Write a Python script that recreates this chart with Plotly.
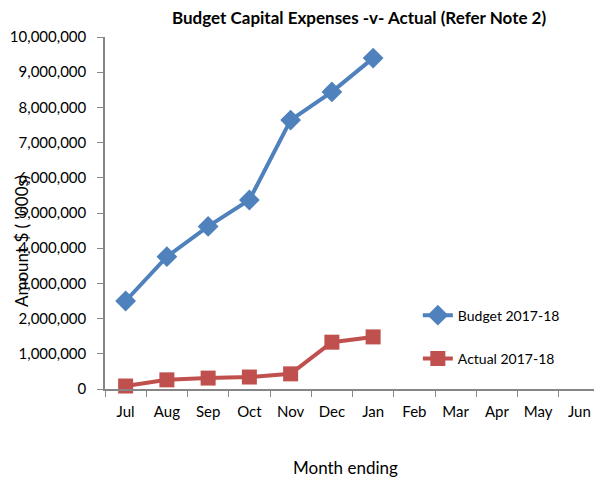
import plotly.graph_objects as go

months = ["Jul", "Aug", "Sep", "Oct", "Nov", "Dec", "Jan", "Feb", "Mar", "Apr", "May", "Jun"]
budget_months = ["Jul", "Aug", "Sep", "Oct", "Nov", "Dec", "Jan"]
budget = [2500000, 3760000, 4620000, 5370000, 7640000, 8440000, 9400000]
actual = [85000, 260000, 310000, 340000, 430000, 1330000, 1480000]

BLUE = "#4F81BD"
RED = "#C0504D"
FONT = "Lato, Open Sans, sans-serif"

fig = go.Figure()

fig.add_trace(go.Scatter(
    x=budget_months, y=budget, name="Budget 2017-18", mode="lines+markers",
    line=dict(color=BLUE, width=4),
    marker=dict(symbol="diamond", size=16, color=BLUE),
    legendgroup="b", cliponaxis=False,
))
fig.add_trace(go.Scatter(
    x=budget_months, y=actual, name="Actual 2017-18", mode="lines+markers",
    line=dict(color=RED, width=4),
    marker=dict(symbol="square", size=15, color=RED),
    legendgroup="a", cliponaxis=False,
))

# page body has an 8px margin, so the figure is a bit smaller and shifted
fig.update_layout(
    width=594, height=477,
    margin=dict(l=97, r=2, t=29, b=96),
    paper_bgcolor="white", plot_bgcolor="white",
    font=dict(family=FONT, size=15, color="black"),
    title=dict(text="<b>Budget Capital Expenses -v- Actual (Refer Note 2)</b>",
               x=0.591, xanchor="center", y=0.978, yanchor="middle",
               font=dict(size=17)),
    showlegend=True,
    legend=dict(x=0.632, y=0.254, xanchor="left", yanchor="top",
                bgcolor="rgba(0,0,0,0)", tracegroupgap=22,
                traceorder="grouped", font=dict(size=14)),
)

fig.update_xaxes(
    type="category", categoryorder="array", categoryarray=months,
    tickvals=months, range=[-0.5, 11.5], automargin=False,
    showline=True, linecolor="#868686", linewidth=1.5,
    ticks="outside", tickson="boundaries", ticklen=6, tickcolor="#868686",
    showgrid=False, zeroline=False, ticklabelstandoff=8,
    tickfont=dict(size=15),
)
fig.update_yaxes(
    range=[0, 10000000], dtick=1000000, tickformat=",d", automargin=False,
    showline=True, linecolor="#868686", linewidth=1.5,
    ticks="outside", ticklen=6, tickcolor="#868686",
    showgrid=False, zeroline=False, ticklabelstandoff=8,
    tickfont=dict(size=15),
)

fig.add_annotation(
    text="Month ending", xref="paper", yref="paper", x=0.485, y=-0.222,
    xanchor="center", yanchor="middle", showarrow=False,
    font=dict(size=17),
)
fig.add_annotation(
    text="Amount $ ( '000s)", textangle=-90,
    xref="paper", yref="paper", x=-0.17, y=0.42,
    xanchor="center", yanchor="middle", showarrow=False,
    font=dict(size=17),
)

fig.write_html("out.html")
